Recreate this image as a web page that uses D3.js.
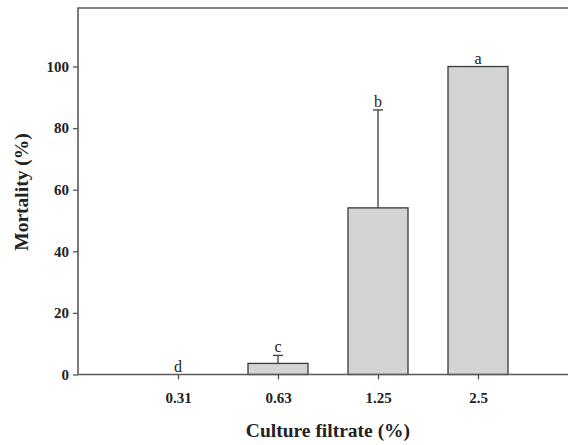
<!DOCTYPE html>
<html lang="en">
	<head>
		<meta charset="utf-8">
		<title>Mortality by culture filtrate</title>
		<script type="text/javascript" src="https://cdn.jsdelivr.net/npm/d3@7"></script>
		<style type="text/css">
			body { margin: 0; background: #fff; }
			svg { display: block; }
		</style>
	</head>
	<body>
		<script type="text/javascript">

			//Size of the picture
			var w = 568;
			var h = 445;

			//Data
			var categories = ["0.31", "0.63", "1.25", "2.5"];
			var mortality = [0, 3.6, 54.1, 100];
			var errors = [0, 2.6, 31.8, 0];
			var letters = ["d", "c", "b", "a"];
			var yTicks = [0, 20, 40, 60, 80, 100];

			//Plot box (note: "top" is taken by window.top)
			var boxLeft = 78, boxRight = 578, boxTop = 8, boxBottom = 374.5;
			var serif = "'Liberation Serif', 'Times New Roman', serif";

			//Scales
			var xScale = d3.scalePoint()
							.domain(categories)
							.range([boxLeft, boxRight])
							.padding(1);

			var yScale = d3.scaleLinear()
							.domain([0, 119])
							.range([boxBottom, boxTop]);

			var barWidth = 60;
			var capWidth = 10;

			//Rows built from the arrays
			var rows = categories.map(function(c, i) {
				return { cat: c, value: mortality[i], err: errors[i], letter: letters[i] };
			});

			var svg = d3.select("body")
						.append("svg")
						.attr("width", w)
						.attr("height", h);

			//Bars
			svg.selectAll("rect.bar")
			   .data(rows.filter(function(d) { return d.value > 0; }))
			   .enter()
			   .append("rect")
			   .attr("class", "bar")
			   .attr("x", function(d) { return xScale(d.cat) - barWidth / 2; })
			   .attr("y", function(d) { return yScale(d.value); })
			   .attr("width", barWidth)
			   .attr("height", function(d) { return yScale(0) - yScale(d.value); })
			   .attr("fill", "#d3d4d6")
			   .attr("stroke", "#3a3a3a")
			   .attr("stroke-width", 1.3);

			//Upper error bars (only where there is an error)
			var withErr = rows.filter(function(d) { return d.err > 0; });

			svg.selectAll("line.err")
			   .data(withErr)
			   .enter()
			   .append("line")
			   .attr("class", "err")
			   .attr("x1", function(d) { return xScale(d.cat); })
			   .attr("x2", function(d) { return xScale(d.cat); })
			   .attr("y1", function(d) { return yScale(d.value); })
			   .attr("y2", function(d) { return yScale(d.value + d.err); })
			   .attr("stroke", "#3a3a3a")
			   .attr("stroke-width", 1.3);

			svg.selectAll("line.cap")
			   .data(withErr)
			   .enter()
			   .append("line")
			   .attr("class", "cap")
			   .attr("x1", function(d) { return xScale(d.cat) - capWidth / 2; })
			   .attr("x2", function(d) { return xScale(d.cat) + capWidth / 2; })
			   .attr("y1", function(d) { return yScale(d.value + d.err); })
			   .attr("y2", function(d) { return yScale(d.value + d.err); })
			   .attr("stroke", "#3a3a3a")
			   .attr("stroke-width", 1.3);

			//Axes
			var yAxis = d3.axisLeft(yScale)
							.tickValues(yTicks)
							.tickSize(5)
							.tickPadding(4);

			var xAxis = d3.axisBottom(xScale)
							.tickSize(5)
							.tickPadding(13);

			var gy = svg.append("g")
			   .attr("transform", "translate(" + boxLeft + ",0)")
			   .call(yAxis);

			var gx = svg.append("g")
			   .attr("transform", "translate(0," + boxBottom + ")")
			   .call(xAxis);

			[gx, gy].forEach(function(g) {
				g.attr("font-size", null).attr("font-family", null);
				g.select(".domain").remove();
				g.selectAll("line").attr("stroke", "#555").attr("stroke-width", 1.3);
				g.selectAll("text")
				 .attr("font-family", serif)
				 .attr("font-weight", "bold")
				 .attr("font-size", "15px")
				 .attr("fill", "#222");
			});

			//Frame: left, top and bottom lines of the plot box
			svg.append("path")
			   .attr("d", "M" + boxRight + "," + boxTop + "H" + boxLeft + "V" + boxBottom + "H" + boxRight)
			   .attr("fill", "none")
			   .attr("stroke", "#5a5a5a")
			   .attr("stroke-width", 1.6);

			//Letters above the bars
			svg.selectAll("text.letter")
			   .data(rows)
			   .enter()
			   .append("text")
			   .attr("class", "letter")
			   .text(function(d) { return d.letter; })
			   .attr("text-anchor", "middle")
			   .attr("x", function(d) { return xScale(d.cat); })
			   .attr("y", function(d) { return yScale(d.value + d.err) - 3; })
			   .attr("font-family", serif)
			   .attr("font-size", "16px")
			   .attr("fill", "#222");

			//Axis titles
			svg.append("text")
			   .text("Culture filtrate (%)")
			   .attr("text-anchor", "middle")
			   .attr("x", 328)
			   .attr("y", 437)
			   .attr("font-family", serif)
			   .attr("font-weight", "bold")
			   .attr("font-size", "19.5px")
			   .attr("fill", "#222");

			svg.append("text")
			   .text("Mortality (%)")
			   .attr("text-anchor", "middle")
			   .attr("transform", "translate(28,192) rotate(-90)")
			   .attr("font-family", serif)
			   .attr("font-weight", "bold")
			   .attr("font-size", "19.5px")
			   .attr("fill", "#222");

		</script>
	</body>
</html>
